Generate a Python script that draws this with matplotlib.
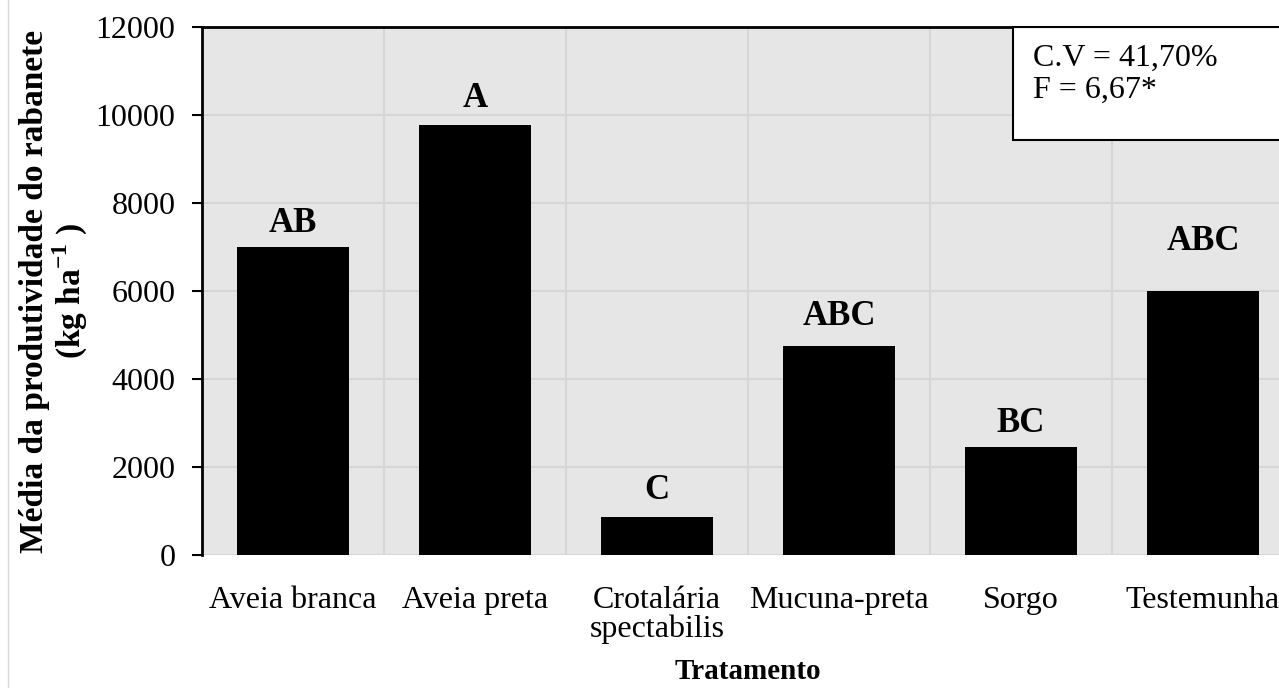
import numpy as np
import matplotlib.pyplot as plt
from matplotlib.patches import Rectangle
from matplotlib.lines import Line2D

plt.rcParams['font.family'] = ['Liberation Serif', 'DejaVu Serif']
plt.rcParams['mathtext.fontset'] = 'custom'
plt.rcParams['mathtext.rm'] = 'Liberation Serif'
plt.rcParams['mathtext.bf'] = 'Liberation Serif:bold'

tratamentos = ['Aveia branca', 'Aveia preta', 'Crotalária\nspectabilis',
               'Mucuna-preta', 'Sorgo', 'Testemunha']
produtividade = [7000, 9780, 860, 4760, 2460, 6000]
letras = ['AB', 'A', 'C', 'ABC', 'BC', 'ABC']
letra_offset = [5, 7, 7, 9, 5, 24]  # pontos acima da barra

fig = plt.figure(figsize=(12.79, 6.88), dpi=100)
ax = fig.add_axes([202 / 1279, 133 / 688, 1092 / 1279, 528 / 688])
ax.set_facecolor('#e6e6e6')

x = np.arange(len(tratamentos))
ax.bar(x, produtividade, width=0.61, color='black', zorder=3)
for xi, v, l, off in zip(x, produtividade, letras, letra_offset):
    ax.annotate(l, (xi, v), xytext=(0, off), textcoords='offset points',
                ha='center', va='bottom', fontsize=25, fontweight='bold')

ax.set_xlim(-0.5, len(tratamentos) - 0.5)
ax.set_ylim(0, 12000)
ax.set_yticks(np.arange(0, 12001, 2000))
ax.set_xticks(x)
ax.set_xticklabels(tratamentos, fontsize=23, linespacing=1.0)
ax.tick_params(axis='y', labelsize=23, length=7, width=1.5, pad=12)
ax.tick_params(axis='x', length=0, pad=22)

# grade vertical nos limites das categorias
ax.set_xticks(np.arange(-0.5, len(tratamentos)), minor=True)
ax.grid(axis='y', color='#d6d6d6', lw=1.5, zorder=0)
ax.grid(axis='x', which='minor', color='#d6d6d6', lw=1.5, zorder=0)
ax.tick_params(axis='x', which='minor', length=0)

for s in ['right', 'bottom']:
    ax.spines[s].set_visible(False)
ax.spines['left'].set_linewidth(2)
ax.spines['top'].set_linewidth(2)

ax.set_ylabel('Média da produtividade do rabanete\n(kg ha$^{\\mathbf{-1}}$ )', fontsize=24,
              fontweight='bold', labelpad=4, linespacing=1.05)
ax.set_xlabel('Tratamento', fontsize=21, fontweight='bold', labelpad=10)

# caixa com estatísticas
fig.patches.append(Rectangle((1013 / 1279, 548 / 688), 300 / 1279, 113 / 688,
                             transform=fig.transFigure, facecolor='white',
                             edgecolor='black', lw=1.5, zorder=5))
fig.text(1033 / 1279, 644 / 688, 'C.V = 41,70%\nF = 6,67*', fontsize=23,
         va='top', ha='left', linespacing=1.12, zorder=6)

fig.lines.append(Line2D([8 / 1279, 8 / 1279], [0, 1], transform=fig.transFigure,
                        color='#d9d9d9', lw=1))

fig.savefig('out.png', dpi=100)
